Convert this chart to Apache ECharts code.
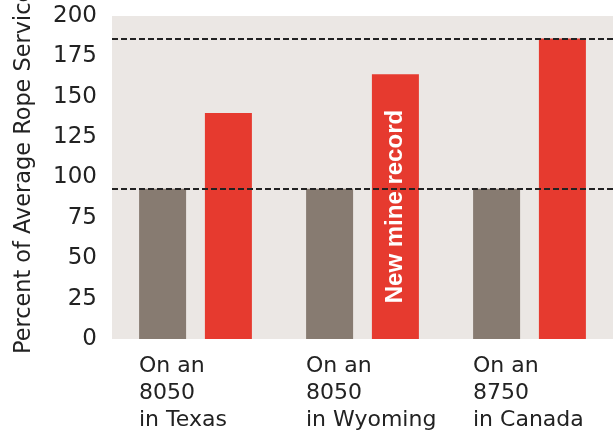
<!DOCTYPE html>
<html>
<head>
<meta charset="utf-8">
<script src="https://cdn.jsdelivr.net/npm/echarts@6/dist/echarts.min.js"></script>
<style>
  html, body { margin: 0; padding: 0; background: #fff; }
  #chart { width: 616px; height: 432px; }
</style>
</head>
<body>
<div id="chart"></div>
<script>
  // data
  const categories = ['On an\n8050\nin Texas', 'On an\n8050\nin Wyoming', 'On an\n8750\nin Canada'];
  const averageValues = [93, 93, 93];
  const recordValues = [140, 164, 186];
  const referenceLines = [93, 186];
  const yTicks = { min: 0, max: 200, interval: 25 };
  const yTitle = 'Percent of Average Rope Service Life';
  const recordNote = 'New mine record';

  const chart = echarts.init(document.getElementById('chart'));
  const font = 'DejaVu Sans';

  chart.setOption({
    animation: false,
    grid: {
      left: 112, right: 3, top: 16, bottom: 93,
      show: true, backgroundColor: '#ebe7e4', borderWidth: 0
    },
    graphic: [{
      type: 'text',
      x: 24, y: 354,
      rotation: Math.PI / 2,
      style: {
        text: yTitle,
        font: '22.4px "DejaVu Sans"',
        fill: '#222',
        align: 'left', verticalAlign: 'middle',
        textAlign: 'left', textVerticalAlign: 'middle'
      }
    }],
    xAxis: {
      type: 'category',
      data: categories,
      axisLine: { show: false },
      axisTick: { show: false },
      axisLabel: {
        margin: 14,
        interval: 0,
        formatter: function (v) {
          return v.split('\n').map(s => '{a|' + s + '}').join('\n');
        },
        rich: {
          a: { width: 113, align: 'left', fontFamily: font, fontSize: 22, lineHeight: 27, color: '#222' }
        }
      }
    },
    yAxis: {
      type: 'value',
      min: yTicks.min, max: yTicks.max, interval: yTicks.interval,
      axisLine: { show: false },
      axisTick: { show: false },
      splitLine: { show: false },
      axisLabel: { margin: 15, fontFamily: font, fontSize: 23, color: '#222' }
    },
    series: [
      {
        type: 'bar',
        data: averageValues,
        barWidth: 47,
        barGap: '40%',
        z: 3,
        itemStyle: { color: '#877b71' }
      },
      {
        type: 'bar',
        data: recordValues.map((v, i) => i === 1 ? {
          value: v,
          label: {
            show: true, position: 'inside', rotate: 90,
            formatter: recordNote, color: '#fff',
            fontFamily: 'Liberation Sans', fontWeight: 'bold', fontSize: 24
          }
        } : v),
        barWidth: 47,
        z: 3,
        itemStyle: { color: '#e63a2f' }
      },
      {
        type: 'line',
        data: [],
        z: 1,
        markLine: {
          silent: true,
          symbol: 'none',
          label: { show: false },
          lineStyle: { color: '#222', type: [6, 3], width: 2 },
          data: referenceLines.map(v => ({ yAxis: v }))
        }
      }
    ]
  });
</script>
</body>
</html>
